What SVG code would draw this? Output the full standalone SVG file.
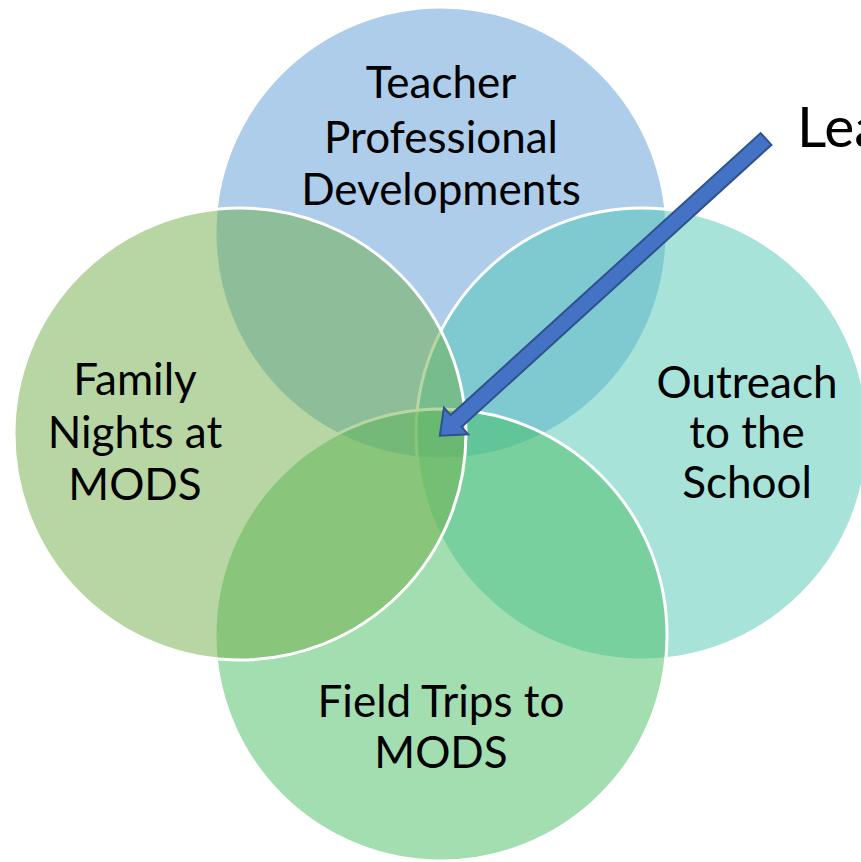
<svg xmlns="http://www.w3.org/2000/svg" width="861" height="862" viewBox="0 0 861 862">
  <style>
    .set { stroke: #ffffff; stroke-width: 3; fill-opacity: 0.5; }
    .lbl { font-family: Lato, "Open Sans", "Liberation Sans", sans-serif; font-size: 44px; fill: #000000; text-anchor: middle; }
    .note { font-family: Lato, "Open Sans", "Liberation Sans", sans-serif; font-size: 57px; fill: #000000; }
  </style>
  <rect width="861" height="862" fill="#ffffff"/>

  <!-- four overlapping sets, drawn clockwise from the top -->
  <g id="teacher-pd">
    <circle class="set" cx="441" cy="233" r="226" fill="#5b9bd5"/>
    <text class="lbl" x="441" y="98">Teacher</text>
    <text class="lbl" x="441" y="153">Professional</text>
    <text class="lbl" x="441" y="205">Developments</text>
  </g>
  <g id="outreach">
    <circle class="set" cx="642" cy="434" r="226" fill="#51c7b5"/>
  </g>
  <g id="field-trips">
    <circle class="set" cx="441" cy="635" r="226" fill="#45bd61"/>
    <text class="lbl" x="441" y="717">Field Trips to</text>
    <text class="lbl" x="441" y="768">MODS</text>
  </g>
  <g id="family-nights">
    <circle class="set" cx="240" cy="434" r="226" fill="#70ad47"/>
    <text class="lbl" x="135" y="395">Family</text>
    <text class="lbl" x="135" y="448">Nights at</text>
    <text class="lbl" x="135" y="500">MODS</text>
  </g>
  <g id="outreach-label">
    <text class="lbl" x="747" y="398">Outreach</text>
    <text class="lbl" x="747" y="448">to the</text>
    <text class="lbl" x="747" y="498">School</text>
  </g>

  <!-- callout pointing into the shared centre -->
  <g id="connectors">
    <polygon points="0,-8 419,-8 419,-18 441,0 419,18 419,8 0,8"
             transform="translate(766,139) rotate(137.7)"
             fill="#4472c4" stroke="#2f528f" stroke-width="2" stroke-linejoin="miter"/>
  </g>
  <g id="callout-label">
    <text class="note" x="797" y="147">Lea</text>
  </g>
</svg>
